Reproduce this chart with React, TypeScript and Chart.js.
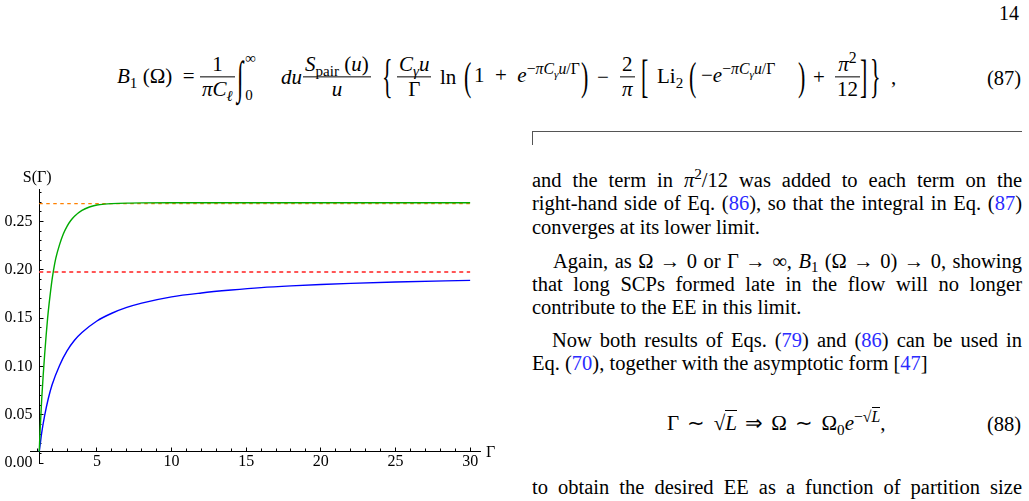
import { useEffect, useRef } from 'react';
import { Chart, registerables } from 'chart.js';

Chart.register(...registerables);

const SERIF = '"Liberation Serif", "Times New Roman", serif';
const LINK = '#2b2bff';

// S(Γ) curves
const GAMMA_BLUE = [1.14, 1.2, 1.3, 1.5, 1.75, 2, 2.5, 3, 3.5, 4, 5, 6, 7, 8, 10, 12, 14, 16, 18, 20, 22, 25, 30];
const S_BLUE = [0.012, 0.019, 0.031, 0.049, 0.067, 0.081, 0.101, 0.116, 0.127, 0.135, 0.147, 0.155, 0.161, 0.1655, 0.172, 0.176, 0.179, 0.1815, 0.1833, 0.1847, 0.1859, 0.1873, 0.189];

const GAMMA_GREEN = [1.14, 1.2, 1.3, 1.4, 1.5, 1.6, 1.7, 1.8, 1.9, 2, 2.1, 2.25, 2.5, 2.75, 3, 3.25, 3.5, 4, 4.5, 5, 5.5, 6, 7, 8, 10, 15, 20, 25, 30];
const S_GREEN = [0.012, 0.035, 0.065, 0.09, 0.112, 0.132, 0.15, 0.165, 0.178, 0.19, 0.2, 0.212, 0.226, 0.237, 0.245, 0.251, 0.2555, 0.2615, 0.265, 0.267, 0.268, 0.2685, 0.269, 0.2692, 0.2693, 0.2693, 0.2693, 0.2693, 0.2693];

// dashed asymptotes
const DASH_GAMMA = [1.14, 30];
const GREEN_LIMIT = 0.2684;
const BLUE_LIMIT = 0.1976;

// axes
const X_MIN = 0.52;
const X_MAX = 30.66;
const Y_MIN = 0;
const Y_MAX = 0.2836;
const CROSS_X = 1.14;
const CROSS_Y = 0.0124;
const X_MAJOR = [5, 10, 15, 20, 25, 30];
const X_MINOR = [1, 2, 3, 4, 6, 7, 8, 9, 11, 12, 13, 14, 16, 17, 18, 19, 21, 22, 23, 24, 26, 27, 28, 29];
const Y_MAJOR = [0, 0.05, 0.1, 0.15, 0.2, 0.25];
const Y_MINOR = [0.01, 0.02, 0.03, 0.04, 0.06, 0.07, 0.08, 0.09, 0.11, 0.12, 0.13, 0.14, 0.16, 0.17, 0.18, 0.19, 0.21, 0.22, 0.23, 0.24, 0.26, 0.27, 0.28];
const X_TITLE = 'Γ';
const Y_TITLE = 'S(Γ)';

const axisTitles = {
  id: 'axisTitles',
  afterDraw(chart: any) {
    const { ctx, scales } = chart;
    const x = scales.x;
    const y = scales.y;
    ctx.save();
    ctx.fillStyle = '#000';
    ctx.font = '16px ' + SERIF;
    ctx.textBaseline = 'alphabetic';
    ctx.textAlign = 'center';
    ctx.fillText(Y_TITLE, x.getPixelForValue(CROSS_X) - 2, y.top - 7);
    ctx.textAlign = 'left';
    ctx.fillText(X_TITLE, x.right + 6, y.getPixelForValue(CROSS_Y) + 6);
    ctx.restore();
  },
};

const pts = (xs: number[], ys: number[]) => xs.map((x, i) => ({ x, y: ys[i] }));

function SPlot() {
  const chartRef = useRef<HTMLCanvasElement | null>(null);

  useEffect(() => {
    const ctx = chartRef.current?.getContext('2d');
    if (!ctx) return;

    const tickFont = { family: SERIF, size: 16 };

    const chart = new Chart(ctx, {
      type: 'line',
      data: {
        datasets: [
          { data: pts(GAMMA_GREEN, S_GREEN), borderColor: 'rgb(0,170,0)', borderWidth: 1.4, pointRadius: 0, cubicInterpolationMode: 'monotone' },
          { data: pts(GAMMA_BLUE, S_BLUE), borderColor: 'rgb(0,0,255)', borderWidth: 1.4, pointRadius: 0, cubicInterpolationMode: 'monotone' },
          { data: pts(DASH_GAMMA, [GREEN_LIMIT, GREEN_LIMIT]), borderColor: 'rgb(255,128,0)', borderWidth: 1.3, borderDash: [3.5, 3.5], pointRadius: 0 },
          { data: pts(DASH_GAMMA, [BLUE_LIMIT, BLUE_LIMIT]), borderColor: 'rgb(255,85,85)', borderWidth: 2, borderDash: [4, 3.5], pointRadius: 0 },
        ],
      },
      options: {
        animation: false,
        responsive: true,
        maintainAspectRatio: false,
        events: [],
        layout: { padding: { left: 30, right: 40, top: 29, bottom: 27 } },
        plugins: { legend: { display: false }, tooltip: { enabled: false } },
        scales: {
          x: {
            type: 'linear',
            min: X_MIN,
            max: X_MAX,
            position: { y: CROSS_Y },
            border: { color: '#000', width: 1 },
            grid: { drawOnChartArea: false, tickLength: -4.5, tickColor: '#000', tickWidth: 1 },
            ticks: { color: '#000', font: tickFont, padding: 6, autoSkip: false, maxRotation: 0, callback: (v: any) => String(v) },
            afterBuildTicks: (s: any) => { s.ticks = X_MAJOR.map((value) => ({ value })); },
          },
          xm: {
            type: 'linear',
            axis: 'x',
            min: X_MIN,
            max: X_MAX,
            position: { y: CROSS_Y },
            border: { display: false },
            grid: { drawOnChartArea: false, tickLength: -2.5, tickColor: '#000', tickWidth: 1 },
            ticks: { display: false },
            afterBuildTicks: (s: any) => { s.ticks = X_MINOR.map((value) => ({ value })); },
          },
          y: {
            type: 'linear',
            min: Y_MIN,
            max: Y_MAX,
            position: { x: CROSS_X },
            border: { color: '#000', width: 1 },
            grid: { drawOnChartArea: false, tickLength: -4.5, tickColor: '#000', tickWidth: 1 },
            // labels of an axis placed at a value sit right on the axis line, so pad them with spaces
            ticks: { color: '#000', font: tickFont, autoSkip: false, callback: (v: any) => Number(v).toFixed(2) + ' \u2006' },
            afterBuildTicks: (s: any) => { s.ticks = Y_MAJOR.map((value) => ({ value })); },
          },
          ym: {
            type: 'linear',
            axis: 'y',
            min: Y_MIN,
            max: Y_MAX,
            position: { x: CROSS_X },
            border: { display: false },
            grid: { drawOnChartArea: false, tickLength: -2.5, tickColor: '#000', tickWidth: 1 },
            ticks: { display: false },
            afterBuildTicks: (s: any) => { s.ticks = Y_MINOR.map((value) => ({ value })); },
          },
        },
      } as any,
      plugins: [axisTitles],
    });

    return () => {
      chart.destroy();
    };
  }, []);

  return (
    <div style={{ position: 'absolute', left: 0, top: 160, width: 520, height: 330 }}>
      <canvas ref={chartRef}></canvas>
    </div>
  );
}

// small typesetting helpers for the page text
const I = ({ children }: any) => <span style={{ fontStyle: 'italic' }}>{children}</span>;
const Sub = ({ children }: any) => <span style={{ fontSize: '0.72em', position: 'relative', top: '0.3em' }}>{children}</span>;
const Sup = ({ children }: any) => <span style={{ fontSize: '0.75em', position: 'relative', top: '-0.5em' }}>{children}</span>;
const Ref = ({ children }: any) => <span style={{ color: LINK }}>{children}</span>;

const Frac = ({ num, den }: any) => (
  <span style={{ display: 'inline-flex', flexDirection: 'column', alignItems: 'center', lineHeight: 1.15 }}>
    <span style={{ padding: '0 2px' }}>{num}</span>
    <span style={{ alignSelf: 'stretch', height: 0, borderTop: '1px solid #000' }} />
    <span style={{ padding: '0 2px' }}>{den}</span>
  </span>
);

const Delim = ({ ch, scale }: any) => (
  <span style={{ display: 'inline-block', fontSize: 22, lineHeight: 1, transform: `scaleY(${scale})` }}>{ch}</span>
);

const Integral = () => (
  <span style={{ display: 'inline-flex', alignItems: 'center' }}>
    <span style={{ display: 'inline-block', fontSize: 23, lineHeight: 1, transform: 'scaleY(2)' }}>∫</span>
    <span style={{ display: 'inline-flex', flexDirection: 'column', justifyContent: 'space-between', height: 52, fontSize: 15, lineHeight: 1, marginLeft: 2 }}>
      <span>∞</span>
      <span>0</span>
    </span>
  </span>
);

// one piece of the display equation, centred on the math axis
const EQ_AXIS = 77;
const P = ({ x, children }: any) => (
  <div style={{ position: 'absolute', left: x, top: EQ_AXIS, transform: 'translateY(-50%)', display: 'flex', alignItems: 'center', fontSize: 21, lineHeight: '21px', whiteSpace: 'nowrap' }}>
    {children}
  </div>
);

const TEXT_SIZE = 20.5;
const LINE_H = 23.5;

const Line = ({ base, indent = 0, justify = true, children }: any) => (
  <div
    style={{
      position: 'absolute',
      left: 532,
      top: base - 18.7,
      width: 490,
      height: LINE_H,
      lineHeight: LINE_H + 'px',
      fontSize: TEXT_SIZE,
      textAlign: justify ? 'justify' : 'left',
      textAlignLast: justify ? 'justify' : 'left',
      textIndent: indent,
    } as any}
  >
    {children}
  </div>
);

const At = ({ left, base, size = TEXT_SIZE, children, style }: any) => (
  <div style={{ position: 'absolute', left, top: base - 0.8375 * size, fontSize: size, lineHeight: size + 'px', whiteSpace: 'nowrap', ...style }}>
    {children}
  </div>
);

const NB = '\u00a0';

export default function App() {
  return (
    <div style={{ position: 'absolute', left: 0, top: 0, width: 1029, height: 501, overflow: 'hidden', background: '#fff', color: '#000', fontFamily: SERIF }}>
      <At left={999} base={20} size={20}>14</At>

      {/* Eq. (87) */}
      <P x={117}><span><I>B</I><Sub>1</Sub>{NB}(Ω){NB}{NB}={NB}</span></P>
      <P x={200}><Frac num="1" den={<><I>πC</I><Sub><I>ℓ</I></Sub></>} /></P>
      <P x={237}><Integral /></P>
      <P x={281}><I>du</I></P>
      <P x={303}><Frac num={<><I>S</I><Sub>pair</Sub>{NB}(<I>u</I>)</>} den={<I>u</I>} /></P>
      <P x={382}><Delim ch="{" scale={2.1} /></P>
      <P x={397}><Frac num={<><I>C</I><Sub><I>γ</I></Sub><I>u</I></>} den="Γ" /></P>
      <P x={440}>ln</P>
      <P x={464}><Delim ch="(" scale={1.8} /></P>
      <P x={474}><span>1{NB}{NB}+{NB}{NB}<I>e</I><Sup>−<I>πC</I><Sub><I>γ</I></Sub><I>u</I>/Γ</Sup></span></P>
      <P x={581}><Delim ch=")" scale={1.8} /></P>
      <P x={597}>−</P>
      <P x={620}><Frac num="2" den={<I>π</I>} /></P>
      <P x={641}><Delim ch="[" scale={2.1} /></P>
      <P x={657}><span>Li<Sub>2</Sub></span></P>
      <P x={689}><Delim ch="(" scale={1.8} /></P>
      <P x={701}><span>−<I>e</I><Sup>−<I>πC</I><Sub><I>γ</I></Sub><I>u</I>/Γ</Sup></span></P>
      <P x={798}><Delim ch=")" scale={1.8} /></P>
      <P x={813}>+</P>
      <P x={835}><Frac num={<><I>π</I><Sup>2</Sup></>} den="12" /></P>
      <P x={860}><Delim ch="]" scale={2.1} /></P>
      <P x={870}><Delim ch="}" scale={2.1} /></P>
      <P x={891}>,</P>
      <At left={987} base={85}>(87)</At>

      {/* column rule */}
      <div style={{ position: 'absolute', left: 532, top: 131, width: 490, height: 1, background: '#555' }} />
      <div style={{ position: 'absolute', left: 532, top: 131, width: 1, height: 14, background: '#555' }} />

      <SPlot />

      <Line base={187.3}>and the term in <I>π</I><Sup>2</Sup>/12 was added to each term on the</Line>
      <Line base={211}>right-hand side of Eq. (<Ref>86</Ref>), so that the integral in Eq. (<Ref>87</Ref>)</Line>
      <Line base={234.3} justify={false}>converges at its lower limit.</Line>
      <Line base={268.3} indent={21}>Again, as Ω → 0 or Γ → ∞, <I>B</I><Sub>1</Sub> (Ω → 0) → 0, showing</Line>
      <Line base={291.7}>that long SCPs formed late in the flow will no longer</Line>
      <Line base={315} justify={false}>contribute to the EE in this limit.</Line>
      <Line base={347.7} indent={20}>Now both results of Eqs. (<Ref>79</Ref>) and (<Ref>86</Ref>) can be used in</Line>
      <Line base={371} justify={false}>Eq. (<Ref>70</Ref>), together with the asymptotic form [<Ref>47</Ref>]</Line>

      {/* Eq. (88) */}
      <At left={667} base={430.7} size={21} style={{ wordSpacing: 3 }}>
        Γ ∼ √<span style={{ borderTop: '1px solid #000' }}><I>L</I></span> ⇒ Ω ∼ Ω<Sub>0</Sub><I>e</I>
        <Sup>−√<span style={{ borderTop: '1px solid #000' }}><I>L</I></span></Sup>,
      </At>
      <At left={987} base={430.7}>(88)</At>

      <Line base={495}>to obtain the desired EE as a function of partition size</Line>
    </div>
  );
}
